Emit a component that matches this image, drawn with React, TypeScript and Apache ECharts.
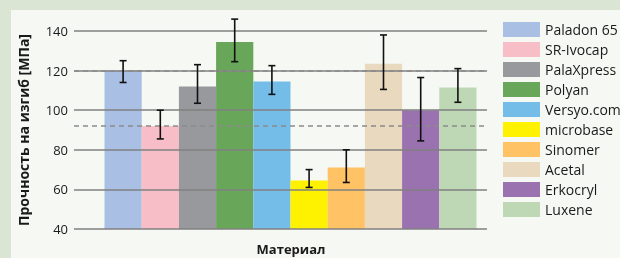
import React, { useEffect, useRef } from "react";
import * as echarts from "echarts";

const materials = [
  "Paladon 65",
  "SR-Ivocap",
  "PalaXpress",
  "Polyan",
  "Versyo.com",
  "microbase",
  "Sinomer",
  "Acetal",
  "Erkocryl",
  "Luxene",
];
const strength = [120, 92, 112, 134.5, 114.5, 64.5, 71, 123.5, 100, 111.5];
const errLow = [114, 85.5, 103.5, 124.5, 108, 61, 63.5, 110.5, 84.5, 104];
const errHigh = [125, 100, 123, 146, 122.5, 70, 80, 138, 116.5, 121];
const colors = [
  "#a9bfe4",
  "#f8bec8",
  "#98999c",
  "#68a65a",
  "#74bde9",
  "#fff200",
  "#ffc264",
  "#e9d9bf",
  "#9b72b0",
  "#bed8b6",
];
const refLines = [120, 92];
const yTicks = { min: 40, max: 140, interval: 20 };

const FONT = "'Open Sans', sans-serif";
const BAR_W = 37.2;
const PAD_W = 20;

export default function App() {
  const ref = useRef<HTMLDivElement>(null);
  useEffect(() => {
    if (!ref.current) return;
    const chart = echarts.init(ref.current, undefined, { renderer: "svg" });
    const total = PAD_W + BAR_W * materials.length;

    const barSeries = materials.map((m, i) => ({
      type: "bar",
      name: m,
      data: [strength[i]],
      barWidth: BAR_W,
      barGap: "0%",
      itemStyle: { color: colors[i] },
      z: 2,
    }));

    chart.setOption({
      animation: false,
      color: colors,
      graphic: [
        { type: "rect", shape: { x: 0, y: 0, width: 620, height: 258 }, style: { fill: "#dae5d4" }, z: -10, silent: true },
        { type: "rect", shape: { x: 11, y: 10, width: 609, height: 248 }, style: { fill: "#f6f8f4" }, z: -9, silent: true },
        {
          type: "text",
          x: 291,
          y: 249,
          style: {
            text: "Материал",
            fill: "#1a1a1a",
            font: `bold 13px ${FONT}`,
            textAlign: "center",
            textVerticalAlign: "middle",
          },
        },
      ],
      grid: { left: 74, right: 133, top: 31, bottom: 29 },
      legend: {
        data: materials,
        orient: "vertical",
        left: 503,
        top: 22,
        padding: 0,
        itemWidth: 37,
        itemHeight: 15,
        itemGap: 5,
        icon: "rect",
        textStyle: { fontFamily: FONT, fontSize: 14, color: "#1a1a1a" },
      },
      xAxis: {
        type: "category",
        data: ["Материал"],
        axisLine: { show: false },
        axisTick: { show: false },
        axisLabel: { show: false },
      },
      yAxis: {
        type: "value",
        min: yTicks.min,
        max: yTicks.max,
        interval: yTicks.interval,
        z: 3,
        name: "Прочность на изгиб [МПа]",
        nameLocation: "middle",
        nameGap: 44,
        nameTextStyle: { fontFamily: FONT, fontSize: 14, fontWeight: "bold", color: "#1a1a1a" },
        axisLine: { show: false },
        axisTick: { show: false },
        axisLabel: { fontFamily: FONT, fontSize: 13, color: "#1a1a1a", margin: 6 },
        splitLine: { lineStyle: { color: "#808080", width: 1.5 } },
      },
      series: [
        {
          type: "bar",
          name: "pad",
          data: ["-"],
          barWidth: PAD_W,
          barGap: "0%",
          itemStyle: { color: "transparent" },
        },
        ...barSeries,
        {
          type: "custom",
          name: "err",
          z: 5,
          data: materials.map((_, i) => [0, errLow[i], errHigh[i], i]),
          encode: { x: 0, y: [1, 2] },
          renderItem: (params: any, api: any) => {
            const i = api.value(3);
            const lo = api.coord([0, api.value(1)]);
            const hi = api.coord([0, api.value(2)]);
            const cx = lo[0] - total / 2 + PAD_W + BAR_W * (i + 0.5);
            const cap = 3.5;
            const style = { stroke: "#111", lineWidth: 1.6 };
            return {
              type: "group",
              children: [
                { type: "line", shape: { x1: cx, y1: hi[1], x2: cx, y2: lo[1] }, style },
                { type: "line", shape: { x1: cx - cap, y1: hi[1], x2: cx + cap, y2: hi[1] }, style },
                { type: "line", shape: { x1: cx - cap, y1: lo[1], x2: cx + cap, y2: lo[1] }, style },
              ],
            };
          },
          markLine: {
            silent: true,
            symbol: "none",
            label: { show: false },
            lineStyle: { color: "#8a8a8a", type: [5, 4], width: 1.5 },
            data: refLines.map((v) => ({ yAxis: v })),
          },
        },
      ],
    });
    return () => chart.dispose();
  }, []);
  return (
    <div
      ref={ref}
      style={{ position: "fixed", left: 0, top: 0, width: 620, height: 258 }}
    />
  );
}
